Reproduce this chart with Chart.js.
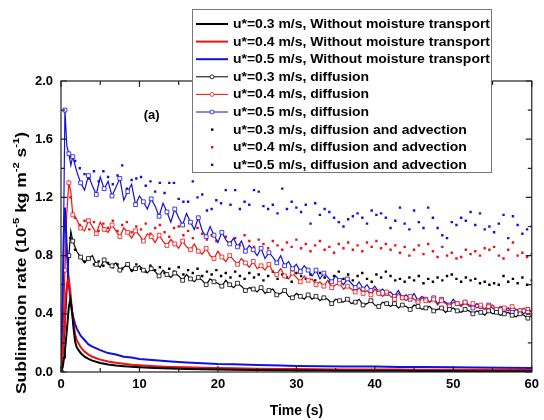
<!DOCTYPE html>
<html>
<head>
<meta charset="utf-8">
<script src="https://cdn.jsdelivr.net/npm/chart.js@4.4.0/dist/chart.umd.min.js"></script>
<style>
  html, body { margin: 0; padding: 0; background: #fff; }
  #wrap { width: 544px; height: 420px; }
</style>
</head>
<body>
<div id="wrap"><canvas id="c" width="544" height="420"></canvas></div>
<script>
/* ---------------- data ---------------- */
const labels = [
  'u*=0.3 m/s, Without moisture transport',
  'u*=0.4 m/s, Without moisture transport',
  'u*=0.5 m/s, Without moisture transport',
  'u*=0.3 m/s, diffusion',
  'u*=0.4 m/s, diffusion',
  'u*=0.5 m/s, diffusion',
  'u*=0.3 m/s, diffusion and advection',
  'u*=0.4 m/s, diffusion and advection',
  'u*=0.5 m/s, diffusion and advection'
];

// no moisture transport (smooth decay)
const tWithout = [0,0.2,0.4,0.5,0.6,0.8,1.0,1.2,1.4,1.6,1.8,2.0,2.5,3.0,3.5,4.0,5,6,7,8,9,10,12,14,16,18,20,22,25,28,30,33,36,40,43,46,50,53,56,60];
const without03 = [0,0.03,0.10,0.15,0.20,0.32,0.45,0.50,0.42,0.30,0.21,0.17,0.13,0.105,0.09,0.078,0.062,0.052,0.045,0.040,0.036,0.033,0.028,0.024,0.021,0.019,0.017,0.015,0.013,0.012,0.011,0.010,0.009,0.008,0.008,0.007,0.007,0.006,0.006,0.005];
const without04 = [0,0.10,0.30,0.42,0.52,0.62,0.64,0.55,0.42,0.33,0.26,0.22,0.17,0.14,0.12,0.105,0.085,0.072,0.063,0.056,0.050,0.046,0.040,0.035,0.032,0.029,0.027,0.025,0.023,0.021,0.020,0.019,0.018,0.017,0.017,0.016,0.016,0.015,0.015,0.014];
const without05 = [0,0.50,1.05,1.13,1.02,0.78,0.60,0.50,0.42,0.37,0.33,0.30,0.25,0.22,0.19,0.175,0.15,0.13,0.12,0.105,0.10,0.09,0.08,0.072,0.066,0.060,0.055,0.053,0.048,0.045,0.042,0.040,0.038,0.037,0.035,0.034,0.032,0.031,0.030,0.028];

// diffusion
const tDiff = [0,0.25,0.5,0.75,1,1.25,1.5,
  2,2.5,3,3.5,4,4.5,5,5.5,6,6.5,
  7,7.5,8,8.5,9,9.5,10,10.5,11,11.5,
  12,12.5,13,13.5,14,14.5,15,15.5,16,16.5,
  17,17.5,18,18.5,19,19.5,20,20.5,21,21.5,
  22,22.5,23,23.5,24,24.5,25,25.5,26,26.5,
  27,27.5,28,28.5,29,29.5,30,30.5,31,31.5,
  32,32.5,33,33.5,34,34.5,35,35.5,36,36.5,
  37,37.5,38,38.5,39,39.5,40,40.5,41,41.5,
  42,42.5,43,43.5,44,44.5,45,45.5,46,46.5,
  47,47.5,48,48.5,49,49.5,50,50.5,51,51.5,
  52,52.5,53,53.5,54,54.5,55,55.5,56,56.5,
  57,57.5,58,58.5,59,59.5,60];
const diff03 = [0,0.12,0.30,0.55,0.80,0.97,0.90,
  0.83,0.79,0.75,0.78,0.80,0.74,0.72,0.77,0.74,0.73,
  0.75,0.70,0.72,0.74,0.69,0.71,0.73,0.70,0.68,0.71,
  0.69,0.66,0.70,0.67,0.65,0.68,0.66,0.63,0.67,0.64,
  0.62,0.65,0.63,0.60,0.64,0.62,0.61,0.59,0.63,0.60,
  0.58,0.61,0.59,0.56,0.58,0.57,0.55,0.58,0.54,0.56,
  0.57,0.53,0.54,0.56,0.52,0.51,0.54,0.52,0.50,0.53,
  0.50,0.52,0.49,0.51,0.50,0.47,0.50,0.49,0.48,0.50,
  0.47,0.48,0.50,0.46,0.47,0.49,0.46,0.45,0.48,0.47,
  0.45,0.47,0.44,0.46,0.45,0.43,0.46,0.45,0.43,0.44,
  0.45,0.42,0.43,0.44,0.41,0.43,0.44,0.42,0.41,0.43,
  0.42,0.40,0.42,0.41,0.39,0.42,0.40,0.41,0.39,0.40,
  0.41,0.39,0.38,0.40,0.39,0.37,0.39];
const diff04 = [0,0.25,0.70,1.10,1.30,1.24,1.08,
  1.05,0.99,0.97,1.04,1.00,0.95,1.03,0.98,0.96,1.01,
  0.97,0.93,0.99,0.96,0.92,0.97,0.94,0.90,0.95,0.93,
  0.89,0.94,0.90,0.87,0.91,0.88,0.85,0.90,0.86,0.84,
  0.88,0.83,0.81,0.85,0.80,0.78,0.83,0.79,0.76,0.80,
  0.77,0.74,0.78,0.75,0.72,0.76,0.71,0.73,0.70,0.74,
  0.69,0.67,0.71,0.66,0.64,0.68,0.65,0.62,0.66,0.63,
  0.64,0.60,0.62,0.59,0.63,0.58,0.60,0.61,0.57,0.59,
  0.57,0.55,0.58,0.54,0.56,0.53,0.57,0.54,0.52,0.55,
  0.52,0.50,0.54,0.51,0.49,0.52,0.50,0.48,0.51,0.49,
  0.48,0.50,0.46,0.49,0.47,0.45,0.48,0.47,0.46,0.48,
  0.45,0.47,0.44,0.46,0.43,0.45,0.46,0.43,0.45,0.44,
  0.42,0.45,0.43,0.42,0.44,0.41,0.43];
const diff05 = [0,0.60,1.80,1.55,1.50,1.42,1.48,
  1.38,1.30,1.25,1.35,1.28,1.22,1.34,1.26,1.31,1.21,
  1.27,1.33,1.18,1.24,1.29,1.15,1.21,1.17,1.12,1.19,
  1.14,1.07,1.16,1.10,1.03,1.12,1.06,1.01,1.09,1.03,
  0.98,1.06,0.97,0.93,1.00,0.94,0.89,0.96,0.91,0.88,
  0.92,0.86,0.90,0.83,0.87,0.84,0.80,0.85,0.78,0.82,
  0.79,0.75,0.80,0.73,0.76,0.71,0.74,0.69,0.73,0.70,
  0.66,0.70,0.64,0.68,0.65,0.62,0.66,0.63,0.60,0.64,
  0.61,0.58,0.62,0.57,0.60,0.56,0.59,0.55,0.57,0.54,
  0.55,0.52,0.56,0.51,0.53,0.50,0.54,0.49,0.52,0.50,
  0.48,0.51,0.47,0.50,0.48,0.46,0.50,0.47,0.45,0.48,
  0.46,0.44,0.47,0.45,0.43,0.46,0.44,0.42,0.45,0.43,
  0.44,0.41,0.43,0.42,0.40,0.43,0.41];

// diffusion and advection (scatter dots)
const tAdv = [1.2,1.8,2.4,3.0,3.6,4.2,4.8,5.4,6.0,6.6,
  7.2,7.8,8.4,9.0,9.6,10.2,10.8,11.4,12.0,12.6,
  13.2,13.8,14.4,15.0,15.6,16.2,16.8,17.4,18.0,18.6,
  19.2,19.8,20.4,21.0,21.6,22.2,22.8,23.4,24.0,24.6,
  25.2,25.8,26.4,27.0,27.6,28.2,28.8,29.4,30.0,30.6,
  31.2,31.8,32.4,33.0,33.6,34.2,34.8,35.4,36.0,36.6,
  37.2,37.8,38.4,39.0,39.6,40.2,40.8,41.4,42.0,42.6,
  43.2,43.8,44.4,45.0,45.6,46.2,46.8,47.4,48.0,48.6,
  49.2,49.8,50.4,51.0,51.6,52.2,52.8,53.4,54.0,54.6,
  55.2,55.8,56.4,57.0,57.6,58.2,58.8,59.4,60.0];
const adv03 = [0.92,0.84,0.79,0.76,0.78,0.74,0.76,0.73,0.75,0.72,
  0.74,0.71,0.73,0.70,0.74,0.71,0.69,0.73,0.70,0.72,
  0.68,0.71,0.69,0.72,0.67,0.70,0.68,0.71,0.66,0.69,
  0.67,0.70,0.66,0.68,0.65,0.69,0.66,0.64,0.68,0.65,
  0.67,0.63,0.66,0.69,0.64,0.67,0.65,0.62,0.68,0.66,
  0.64,0.67,0.63,0.68,0.65,0.62,0.66,0.69,0.64,0.67,
  0.63,0.66,0.68,0.64,0.62,0.67,0.65,0.69,0.66,0.63,
  0.64,0.62,0.65,0.63,0.66,0.61,0.64,0.62,0.65,0.63,
  0.66,0.67,0.64,0.62,0.65,0.63,0.64,0.61,0.62,0.60,
  0.61,0.60,0.66,0.62,0.64,0.61,0.65,0.60,0.63];
const adv04 = [1.20,1.06,1.01,1.04,0.98,1.03,0.97,1.02,0.99,1.04,
  0.97,1.01,1.03,0.96,1.00,0.98,1.02,0.95,0.99,1.01,
  0.96,0.93,0.99,1.00,0.94,0.97,0.92,0.99,0.95,0.91,
  0.94,0.90,0.96,0.93,0.89,0.92,0.87,0.94,0.90,0.86,
  0.91,0.88,0.85,0.90,0.87,0.84,0.89,0.86,0.91,0.85,
  0.88,0.83,0.87,0.90,0.84,0.86,0.82,0.88,0.85,0.89,
  0.84,0.87,0.83,0.89,0.86,0.90,0.85,0.88,0.84,0.87,
  0.82,0.86,0.80,0.84,0.87,0.81,0.88,0.83,0.79,0.86,
  0.80,0.82,0.78,0.79,0.84,0.81,0.83,0.80,0.85,0.84,
  0.86,0.80,0.78,0.84,0.89,0.80,0.82,0.79,0.81];
const adv05 = [1.48,1.45,1.40,1.36,1.33,1.38,1.31,1.38,1.34,1.29,
  1.35,1.42,1.26,1.32,1.33,1.34,1.28,1.31,1.24,1.30,
  1.23,1.30,1.30,1.19,1.17,1.17,1.31,1.20,1.22,1.11,
  1.12,1.18,1.16,1.25,1.15,1.25,1.12,1.17,1.15,1.25,
  1.24,1.14,1.12,1.15,1.09,1.26,1.12,1.17,1.13,1.10,
  1.15,1.02,1.16,1.08,1.12,1.10,1.06,1.03,1.00,1.05,
  1.07,1.09,1.06,1.02,1.11,1.08,1.09,1.06,0.99,1.04,
  1.13,1.02,0.98,1.11,1.03,0.99,1.13,1.06,0.99,0.94,
  0.92,1.03,1.01,1.06,1.04,1.10,1.01,1.09,0.98,1.00,
  0.96,1.02,1.08,0.92,1.07,1.01,0.95,0.98,1.00];

const BLACK = '#000000', RED = '#ee1111', BLUE = '#1111dd';
const FONT = '"Liberation Sans", Arial, sans-serif';

/* ---------------- datasets ---------------- */
const zip = (ts, vs) => ts.map((t, i) => ({x: t, y: vs[i]}));

function solid(label, ts, vs, color) {
  return {label, data: zip(ts, vs), kind: 'solid', borderColor: color, backgroundColor: color,
          borderWidth: 2, pointRadius: 0, tension: 0};
}
function diffusion(label, ts, vs, color) {
  return {label, data: zip(ts, vs), kind: 'marker', borderColor: color, backgroundColor: color,
          borderWidth: 1.2, tension: 0, pointStyle: 'rect',
          pointRadius: c => (c.dataIndex % 2 === 0 ? 2.7 : 0),
          pointBackgroundColor: '#ffffff', pointBorderColor: color, pointBorderWidth: 0.8};
}
function dots(label, ts, vs, color) {
  return {label, data: zip(ts, vs), kind: 'dot', showLine: false, borderColor: color,
          backgroundColor: color, pointStyle: 'rect', pointRadius: 1.7, pointBorderWidth: 0};
}

const datasets = [
  solid(labels[0], tWithout, without03, BLACK),
  solid(labels[1], tWithout, without04, RED),
  solid(labels[2], tWithout, without05, BLUE),
  diffusion(labels[3], tDiff, diff03, BLACK),
  diffusion(labels[4], tDiff, diff04, RED),
  diffusion(labels[5], tDiff, diff05, BLUE),
  dots(labels[6], tAdv, adv03, BLACK),
  dots(labels[7], tAdv, adv04, RED),
  dots(labels[8], tAdv, adv05, BLUE)
];

/* ---------------- frame with inward ticks ---------------- */
const frameTicks = {
  id: 'frameTicks',
  afterDatasetsDraw(chart) {
    const {ctx, chartArea: a, scales: {x, y}} = chart;
    ctx.save();
    ctx.strokeStyle = '#222';
    ctx.lineWidth = 1.2;
    ctx.strokeRect(a.left, a.top, a.right - a.left, a.bottom - a.top);
    ctx.beginPath();
    for (let t = 0; t <= 60; t += 5) {
      const px = x.getPixelForValue(t), len = t % 10 ? 4 : 6;
      ctx.moveTo(px, a.bottom); ctx.lineTo(px, a.bottom - len);
      ctx.moveTo(px, a.top); ctx.lineTo(px, a.top + len);
    }
    for (let i = 0; i <= 10; i++) {
      const py = y.getPixelForValue(i * 0.2), len = i % 2 ? 4 : 6;
      ctx.moveTo(a.left, py); ctx.lineTo(a.left + len, py);
      ctx.moveTo(a.right, py); ctx.lineTo(a.right - len, py);
    }
    ctx.stroke();
    ctx.restore();
  }
};

/* ---------------- legend box, panel label, y title ---------------- */
const extras = {
  id: 'extras',
  afterDraw(chart) {
    const {ctx, scales: {x, y}} = chart;
    ctx.save();

    // legend
    const box = {left: 193, top: 10, right: 492, bottom: 173};
    ctx.fillStyle = '#fff';
    ctx.fillRect(box.left, box.top, box.right - box.left, box.bottom - box.top);
    ctx.strokeStyle = '#777';
    ctx.lineWidth = 1;
    ctx.strokeRect(box.left - 0.5, box.top - 0.5, box.right - box.left, box.bottom - box.top);

    ctx.font = 'bold 13px ' + FONT;
    ctx.textBaseline = 'middle';
    const widest = Math.max(...chart.data.datasets.map(d => ctx.measureText(d.label).width));
    const sx = (box.right - 2 - 233) / widest;
    chart.data.datasets.forEach((d, i) => {
      const ry = 24 + i * 17.6;
      ctx.strokeStyle = d.borderColor;
      ctx.fillStyle = d.borderColor;
      if (d.kind !== 'dot') {
        ctx.lineWidth = d.kind === 'solid' ? 2 : 1;
        ctx.beginPath(); ctx.moveTo(196, ry); ctx.lineTo(228, ry); ctx.stroke();
      }
      if (d.kind === 'marker') {
        ctx.fillStyle = '#fff'; ctx.lineWidth = 0.8;
        ctx.beginPath(); ctx.arc(212, ry, 2, 0, Math.PI * 2); ctx.fill(); ctx.stroke();
      }
      if (d.kind === 'dot') ctx.fillRect(211, ry - 1.2, 2.4, 2.4);
      ctx.fillStyle = '#000';
      ctx.save();
      ctx.translate(233, ry + 0.5);
      ctx.scale(sx, 1);
      ctx.fillText(d.label, 0, 0);
      ctx.restore();
    });

    // panel label
    ctx.font = 'bold 13px ' + FONT;
    ctx.textAlign = 'center';
    ctx.fillStyle = '#000';
    ctx.fillText('(a)', x.getPixelForValue(11.56), y.getPixelForValue(1.766));

    // y axis title with superscripts
    const parts = [['Sublimation rate (10', 0], ['-5', 1], [' kg m', 0], ['-2', 1], [' s', 0], ['-1', 1], [')', 0]];
    const big = 'bold 14px ' + FONT, small = 'bold 9px ' + FONT;
    let total = 0;
    parts.forEach(p => { ctx.font = p[1] ? small : big; total += ctx.measureText(p[0]).width; });
    const span = 262, sy = span / total;
    ctx.translate(22, 263);
    ctx.rotate(-Math.PI / 2);
    ctx.scale(sy, 1);
    ctx.textAlign = 'left';
    ctx.textBaseline = 'middle';
    let cx = -total / 2;
    parts.forEach(p => {
      ctx.font = p[1] ? small : big;
      ctx.fillText(p[0], cx, p[1] ? -5 : 0);
      cx += ctx.measureText(p[0]).width;
    });
    ctx.restore();
  }
};

/* ---------------- chart ---------------- */
new Chart(document.getElementById('c'), {
  type: 'line',
  data: {datasets},
  options: {
    responsive: false,
    animation: false,
    devicePixelRatio: 1,
    layout: {padding: {left: 0, top: 81, right: 9, bottom: 0}},
    plugins: {legend: {display: false}, tooltip: {enabled: false}},
    scales: {
      x: {
        type: 'linear', min: 0, max: 60,
        grid: {display: false, drawTicks: false},
        border: {display: false},
        ticks: {stepSize: 10, padding: 5, color: '#000', font: {family: FONT, size: 13, weight: 'bold'}},
        title: {display: true, text: 'Time (s)', color: '#000', padding: {top: 0, bottom: 0},
                font: {family: FONT, size: 14, weight: 'bold'}},
        afterFit: s => { s.height = 48; }
      },
      y: {
        type: 'linear', min: 0, max: 2,
        grid: {display: false, drawTicks: false},
        border: {display: false},
        ticks: {stepSize: 0.4, padding: 8, color: '#000', callback: v => v.toFixed(1),
                font: {family: FONT, size: 13, weight: 'bold'}},
        afterFit: s => { s.width = 61; }
      }
    }
  },
  plugins: [frameTicks, extras]
});
</script>
</body>
</html>
